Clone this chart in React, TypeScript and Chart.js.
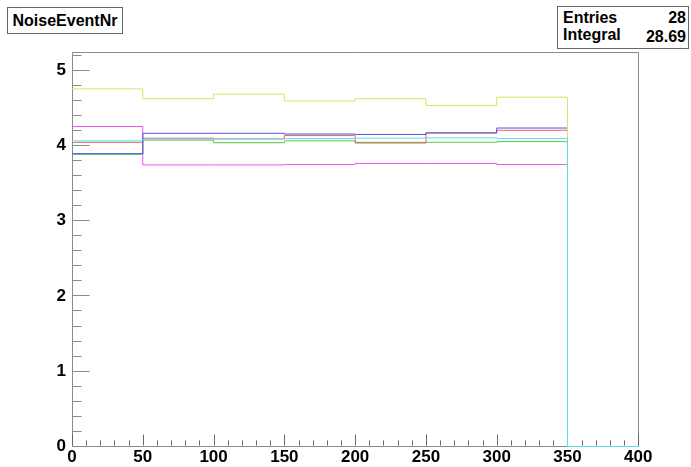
import React, { useEffect, useRef } from "react";
import { Chart, registerables } from "chart.js";

Chart.register(...registerables);

const binEdges = [0, 50, 100, 150, 200, 250, 300, 350, 400];
const xTickValues = [0, 50, 100, 150, 200, 250, 300, 350, 400];
const yTickValues = [0, 1, 2, 3, 4, 5];

const cyanVals = [4.06, 4.08, 4.09, 4.09, 4.095, 4.1, 4.09, 0];
const yellowVals = [4.75, 4.62, 4.68, 4.59, 4.62, 4.53, 4.64, 0];
const blueVals = [3.89, 4.16, 4.16, 4.15, 4.145, 4.165, 4.23, 0];
const redVals = [4.04, 4.095, 4.085, 4.13, 4.04, 4.165, 4.2, 0];
const greenVals = [3.88, 4.07, 4.035, 4.06, 4.03, 4.04, 4.05, 0];
const magentaVals = [4.25, 3.74, 3.74, 3.745, 3.76, 3.76, 3.745, 0];

// listed top-most first
const seriesNames = ["cyan", "yellow", "blue", "red", "green", "magenta"];
const seriesValues = [cyanVals, yellowVals, blueVals, redVals, greenVals, magentaVals];
const seriesColors = ["#5fe0e0", "#e0e060", "#5050ee", "#ee6060", "#55c855", "#ee55ee"];

const titleText = "NoiseEventNr";
const statsLabels = ["Entries", "Integral"];
const statsValues = ["28", "28.69"];

const FONT = "'Liberation Sans', Arial, Helvetica, sans-serif";

function toPoints(vals: number[]) {
  const pts = vals.map((v, i) => ({ x: binEdges[i], y: v }));
  pts.push({ x: binEdges[binEdges.length - 1], y: 0 });
  return pts;
}

const rootFramePlugin = {
  id: "rootFrame",
  beforeDatasetsDraw(chart: any) {
    const { ctx, chartArea } = chart;
    const xs = chart.scales.x;
    const ys = chart.scales.y;
    const l = Math.floor(chartArea.left) + 0.5;
    const r = Math.floor(chartArea.right) + 0.5;
    const t = Math.floor(chartArea.top) + 0.5;
    const b = Math.floor(chartArea.bottom) + 0.5;
    ctx.save();
    ctx.lineWidth = 1;
    ctx.strokeStyle = "#8a8a8a";
    ctx.beginPath();
    ctx.moveTo(l, t);
    ctx.lineTo(r, t);
    ctx.lineTo(r, b);
    ctx.lineTo(l, b);
    ctx.closePath();
    for (let i = 0; i <= 26; i++) {
      const v = i * 0.2;
      if (v > ys.max) break;
      const y = Math.floor(ys.getPixelForValue(v)) + 0.5;
      const len = i % 5 === 0 ? 17 : 9;
      ctx.moveTo(l, y);
      ctx.lineTo(l + len, y);
    }
    ctx.stroke();
    ctx.strokeStyle = "#666";
    ctx.beginPath();
    for (let i = 0; i <= 40; i++) {
      const v = i * 10;
      const x = Math.round(xs.getPixelForValue(v)) + 0.5;
      const len = i % 5 === 0 ? 12 : 6;
      ctx.moveTo(x, b - 1);
      ctx.lineTo(x, b - len);
    }
    ctx.stroke();
    ctx.restore();
  },
};

export default function App() {
  const canvasRef = useRef<HTMLCanvasElement | null>(null);

  useEffect(() => {
    document.body.style.margin = "0";
    const canvas = canvasRef.current;
    if (!canvas) return;
    const chart = new Chart(canvas, {
      type: "line",
      data: {
        datasets: seriesNames.map((name, i) => ({
          label: name,
          data: toPoints(seriesValues[i]),
          borderColor: seriesColors[i],
          backgroundColor: seriesColors[i],
          borderWidth: 1,
          pointRadius: 0,
          stepped: true,
          fill: false,
          order: i,
          clip: 3,
        })),
      },
      options: {
        animation: false,
        responsive: false,
        maintainAspectRatio: false,
        layout: { padding: { left: 0, top: 52, right: 53, bottom: 0 } },
        plugins: {
          legend: { display: false },
          tooltip: { enabled: false },
          title: { display: false },
        },
        scales: {
          x: {
            type: "linear",
            min: 0,
            max: 399.8,
            grid: { display: false, drawTicks: false },
            border: { display: false },
            afterBuildTicks: (scale: any) => {
              scale.ticks = xTickValues.map((v) => ({ value: v }));
            },
            afterFit: (scale: any) => {
              scale.height = 20.5;
            },
            ticks: {
              padding: 1,
              maxRotation: 0,
              autoSkip: false,
              color: "#000",
              font: { family: FONT, size: 17, weight: "bold" },
            },
          },
          y: {
            type: "linear",
            min: 0,
            max: 5.24,
            grid: { display: false, drawTicks: false },
            border: { display: false },
            afterBuildTicks: (scale: any) => {
              scale.ticks = yTickValues.map((v) => ({ value: v }));
            },
            afterFit: (scale: any) => {
              scale.width = 72;
            },
            ticks: {
              padding: 6,
              autoSkip: false,
              color: "#000",
              font: { family: FONT, size: 17, weight: "bold" },
            },
          },
        },
      },
      plugins: [rootFramePlugin],
    } as any);
    return () => chart.destroy();
  }, []);

  return (
    <div style={{ position: "relative", width: 691, height: 467, background: "#fff", fontFamily: FONT }}>
      <canvas ref={canvasRef} width={691} height={467} style={{ position: "absolute", left: 0, top: 0 }} />
      <div
        style={{
          position: "absolute",
          left: 7,
          top: 7,
          width: 114,
          height: 25,
          border: "1px solid #666",
          background: "#fff",
          fontWeight: "bold",
          fontSize: 16,
          lineHeight: "25px",
          textAlign: "center",
          boxSizing: "content-box",
        }}
      >
        {titleText}
      </div>
      <div
        style={{
          position: "absolute",
          left: 557,
          top: 6,
          width: 130,
          height: 41,
          border: "1px solid #666",
          background: "#fff",
          fontWeight: "bold",
          fontSize: 16,
        }}
      >
        {statsLabels.map((lab, i) => (
          <div
            key={lab}
            style={{
              position: "absolute",
              left: 5,
              right: 2,
              top: 2 + i * 17,
              height: 18,
              lineHeight: "18px",
              display: "flex",
              justifyContent: "space-between",
            }}
          >
            <span>{lab}</span>
            <span style={{ position: "relative", top: i === 1 ? 2 : 0 }}>{statsValues[i]}</span>
          </div>
        ))}
      </div>
    </div>
  );
}
